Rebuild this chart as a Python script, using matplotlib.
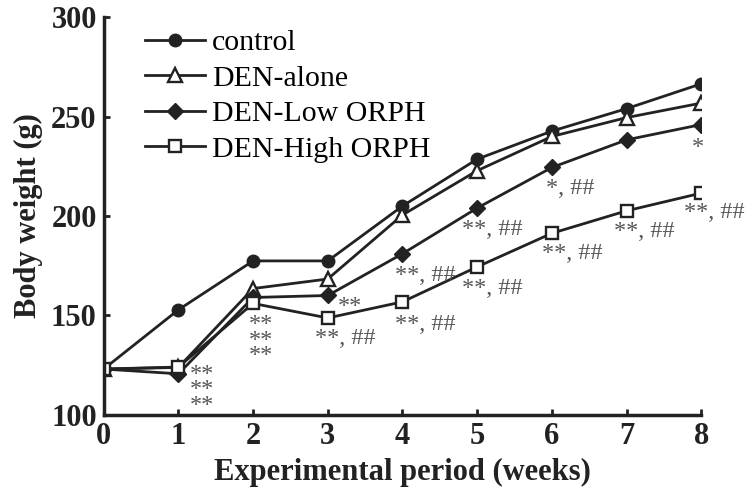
import matplotlib.pyplot as plt

weeks = [0, 1, 2, 3, 4, 5, 6, 7, 8]
control = [123, 152.8, 177.4, 177.4, 205, 228.6, 242.7, 254, 266.5]
den_alone = [123, 123.8, 163.5, 168.3, 200.5, 222.8, 240, 249.5, 256.8]
den_low = [123, 120.6, 159, 160, 181, 204, 224.4, 238.3, 246]
den_high = [123, 124, 156, 148.7, 156.8, 174.4, 191.3, 202.6, 211.5]

# significance labels: (x, y, text)
sig_x = [1.31, 2.1, 3.3, 3.23, 4.3, 4.3, 5.2, 5.2, 6.25, 6.27, 7.24, 8.17, 7.95]
sig_y = [112.5, 137.5, 154.5, 138.5, 170, 145.5, 193, 163.3, 213.6, 181, 192, 202, 234.5]
sig_txt = ['**\n**\n**', '**\n**\n**', '**', '**, ##', '**, ##', '**, ##',
           '**, ##', '**, ##', '*, ##', '**, ##', '**, ##', '**, ##', '*']

plt.rcParams['font.family'] = ['Liberation Serif', 'DejaVu Serif']

fig = plt.figure(figsize=(7.46, 4.92), dpi=100)
ax = fig.add_axes([0.139, 0.157, 0.801, 0.808])

ax.plot(weeks, control, '-o', color='#222222', mfc='#222222', lw=2, ms=9, label='control')
ax.plot(weeks, den_alone, '-^', color='#222222', mfc='white', mew=1.7, lw=2, ms=10, label='DEN-alone')
ax.plot(weeks, den_low, '-D', color='#222222', mfc='#222222', lw=2, ms=8, label='DEN-Low ORPH')
ax.plot(weeks, den_high, '-s', color='#222222', mfc='white', mew=1.7, lw=2, ms=9, label='DEN-High ORPH')

for x, y, t in zip(sig_x, sig_y, sig_txt):
    ax.text(x, y, t, ha='center', va='center', fontsize=17.5, color='#555555',
            linespacing=0.66)

ax.set_xlim(0, 8)
ax.set_ylim(100, 300)
ax.set_xticks(weeks)
ax.set_yticks([100, 150, 200, 250, 300])
ax.spines['top'].set_visible(False)
ax.spines['right'].set_visible(False)
ax.spines['left'].set_linewidth(2.5)
ax.spines['bottom'].set_linewidth(2.5)
ax.spines['left'].set_color('#222222')
ax.spines['bottom'].set_color('#222222')
ax.tick_params(direction='in', length=4, width=2, color='#222222', labelsize=22, pad=5)
for lab in ax.get_xticklabels() + ax.get_yticklabels():
    lab.set_fontweight('bold')
    lab.set_color('#222222')

ax.set_xlabel('Experimental period (weeks)', fontsize=22, fontweight='bold', color='#222222', labelpad=5)
ax.set_ylabel('Body weight (g)', fontsize=22, fontweight='bold', color='#222222', labelpad=6)

ax.legend(loc='upper left', bbox_to_anchor=(0.069, 0.97), frameon=False, fontsize=21.5,
          handlelength=2.0, handletextpad=0.25, labelspacing=0.29, borderaxespad=0,
          borderpad=0)

fig.savefig('out.png', dpi=100)
